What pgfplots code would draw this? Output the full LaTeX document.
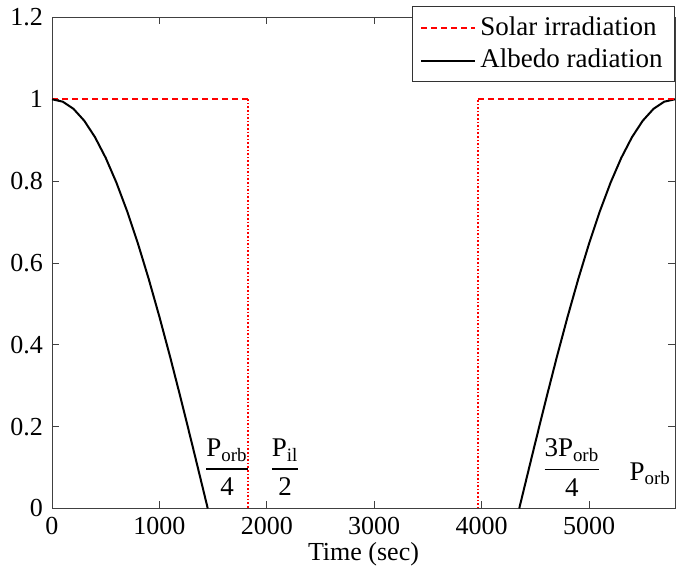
\documentclass[border=0pt]{standalone}
\usepackage{fontspec}
\setmainfont{Liberation Serif}
\usepackage{amsmath}
\usepackage{pgfplots}
\pgfplotsset{compat=1.18}

\begin{document}
\fontsize{13}{15}\selectfont
\begin{tikzpicture}
\begin{axis}[
    scale only axis,
    width=311.5pt, height=245.5pt,
    xmin=0, xmax=5800,
    ymin=0, ymax=1.2,
    xtick={0,1000,2000,3000,4000,5000},
    ytick={0,0.2,0.4,0.6,0.8,1,1.2},
    yticklabels={0,0.2,0.4,0.6,0.8,1,1.2},
    scaled x ticks=false,
    /pgf/number format/assume math mode=true,
    /pgf/number format/1000 sep={},
    tick align=inside,
    major tick length=3.5pt,
    axis line style={black!75},
    every tick/.style={black!75},
    xlabel={Time (sec)},
    xlabel style={yshift=5pt},
    legend style={at={(1,1.023)}, anchor=north east, draw=black!80,
        font=\fontsize{13.5}{16}\selectfont, inner xsep=4pt, inner ysep=3pt,
        row sep=1pt},
    legend cell align=left,
    legend image code/.code={\draw[mark repeat=2,mark phase=2,#1]
        plot coordinates {(0cm,0cm) (0.48cm,0cm) (0.95cm,0cm)};},
    clip=false,
]
% solar irradiation, sunlit parts
\addplot[red, line width=0.8pt, densely dashed] coordinates {
    (0,1) (1822,1)
};
\addlegendentry{Solar irradiation}
% albedo radiation
\addplot[black, line width=1pt] coordinates {
(0,1) (100,0.99414) (200,0.97662) (300,0.94765) (400,0.90757)
(500,0.85686) (600,0.79609) (700,0.72600) (800,0.64738) (900,0.56118)
(1000,0.46841) (1100,0.37014) (1200,0.26752) (1300,0.16175)
(1400,0.05415) (1450,0)
};
\addlegendentry{Albedo radiation}
\addplot[black, line width=1pt, forget plot] coordinates {
(4350,0) (4400,0.05415) (4500,0.16175) (4600,0.26752) (4700,0.37014)
(4800,0.46841) (4900,0.56118) (5000,0.64738) (5100,0.72600)
(5200,0.79609) (5300,0.85686) (5400,0.90757) (5500,0.94765)
(5600,0.97662) (5700,0.99414) (5800,1)
};
\addplot[red, line width=0.8pt, densely dashed, forget plot] coordinates {
    (3964,1) (5800,1)
};
% eclipse edges
\addplot[red, line width=0.8pt, densely dotted, forget plot] coordinates {
    (1822,1) (1822,0)
};
\addplot[red, line width=0.8pt, densely dotted, forget plot] coordinates {
    (3964,0) (3964,1)
};
\node at (axis cs:1630,0.1) {\fontsize{13.5}{16}\selectfont$\dfrac{\text{P}_{\text{orb}}}{\text{4}}$};
\node at (axis cs:2170,0.1) {\fontsize{13.5}{16}\selectfont$\dfrac{\text{P}_{\text{il}}}{\text{2}}$};
\node at (axis cs:4840,0.1) {\fontsize{13.5}{16}\selectfont$\dfrac{\text{3P}_{\text{orb}}}{\text{4}}$};
\node at (axis cs:5570,0.085) {\fontsize{13.5}{16}\selectfont P\textsubscript{orb}};
\end{axis}
\path (current axis.south west) ++(-26pt,-32pt);
\path (current axis.north east) ++(5.5pt,8pt);
\end{tikzpicture}
\end{document}
